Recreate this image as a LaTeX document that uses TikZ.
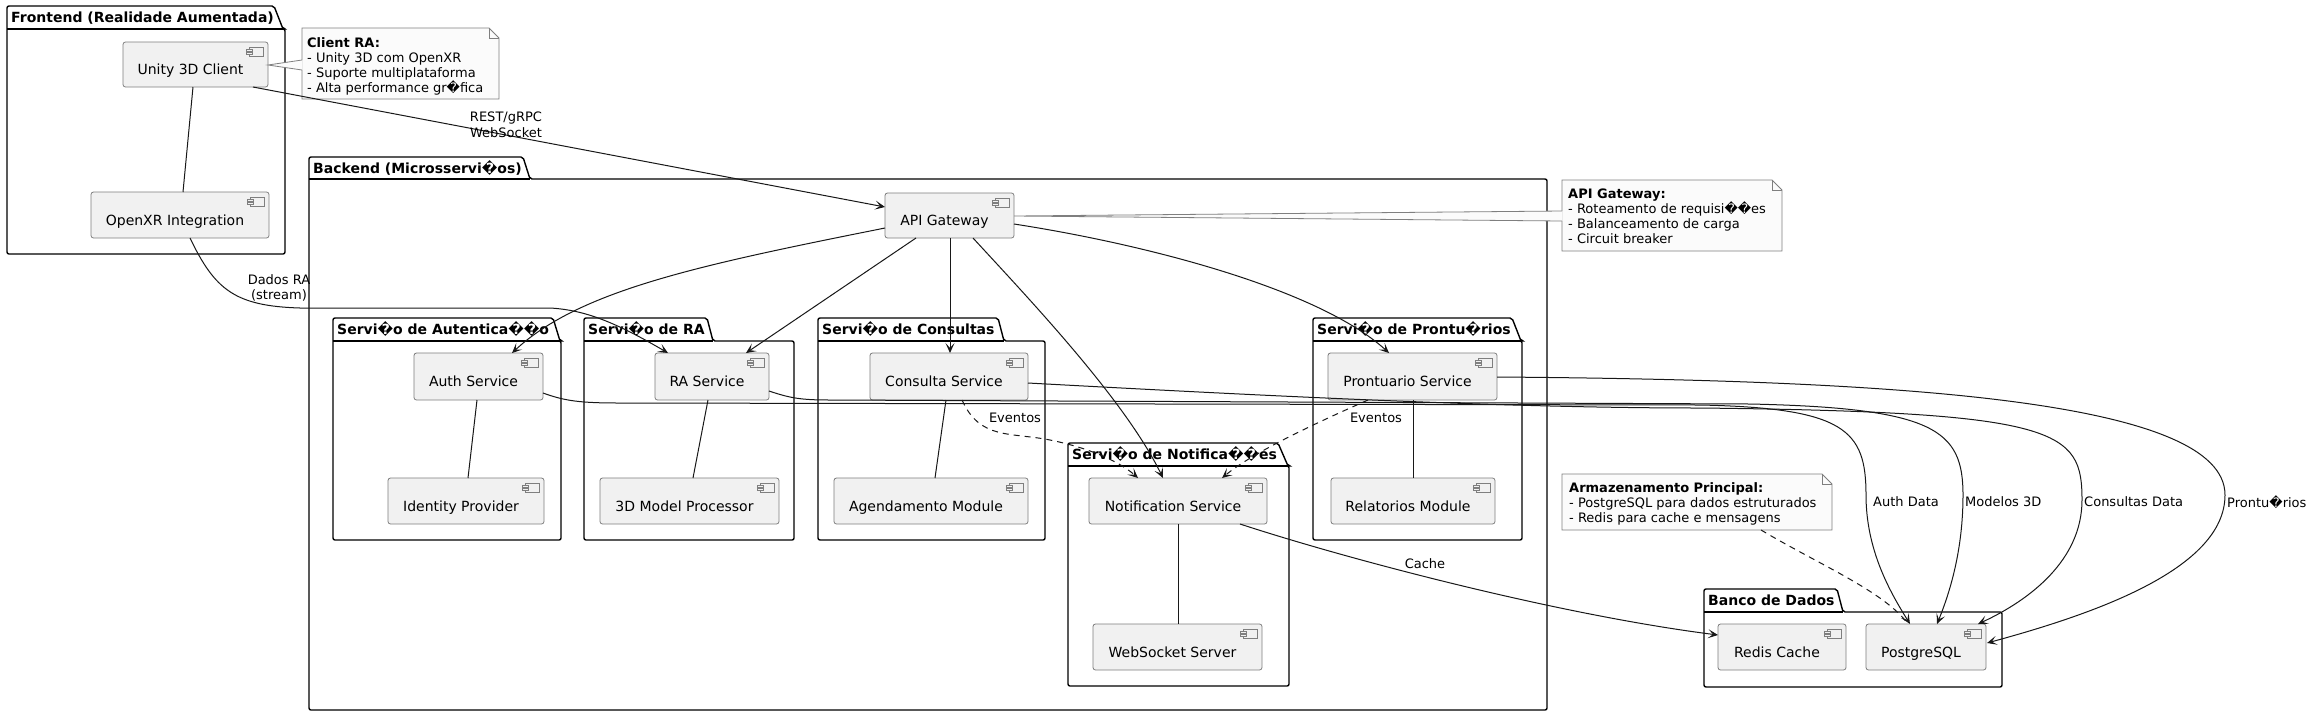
\documentclass[tikz,border=0pt]{standalone}
\usepackage{fontspec}
\setmainfont{DejaVu Sans}
\usetikzlibrary{arrows.meta}
\newcommand\rep{\char"FFFD\relax}
\definecolor{compfill}{HTML}{F1F1F1}
\definecolor{compdraw}{HTML}{7F7F7F}
\definecolor{notefill}{HTML}{FBFBFB}
\definecolor{edgecol}{HTML}{181818}
\tikzset{
 comp/.style={draw=compdraw, fill=compfill, line width=0.8pt, rounded corners=2.5pt, inner sep=0pt, outer sep=0pt},
 comptext/.style={font=\fontsize{14}{16}\selectfont, inner sep=0pt},
 iconline/.style={draw=compdraw, fill=compfill, line width=0.6pt},
 pkgline/.style={draw=black, line width=1.4pt, rounded corners=2pt, fill=white},
 pkgsep/.style={draw=black, line width=1.4pt},
 pkgtitle/.style={font=\fontsize{14}{16}\selectfont\bfseries, inner sep=0pt},
 notebox/.style={draw=compdraw, fill=notefill, line width=0.8pt},
 notetext/.style={font=\fontsize{13}{15}\selectfont, inner sep=0pt, anchor=base west},
 notebold/.style={font=\fontsize{13}{15}\selectfont\bfseries, inner sep=0pt, anchor=base west},
 conn/.style={draw=edgecol, line width=1pt},
 arr/.style={conn, -{Stealth[length=10pt,width=9pt,inset=5pt]}},
 dashedarr/.style={arr, dash pattern=on 6pt off 5pt},
 notelink/.style={conn, dash pattern=on 6pt off 5pt},
 elabel/.style={font=\fontsize{13}{15.5}\selectfont, inner sep=0pt, align=center},
}
% name, x1, y1, x2, y2, text
\newcommand\comp[6]{%
  \node[comp, anchor=north west, minimum width={(#4-#2)*1pt}, minimum height={(#5-#3)*1pt}] (#1) at (#2,#3) {};
  \node[comptext, anchor=base] (#1-t) at ([shift={(-5,10)}]#1.center) {#6};
  \draw[iconline] ([shift={(-19,5)}]#1.north east) rectangle ([shift={(-5,14)}]#1.north east);
  \draw[iconline] ([shift={(-22,7)}]#1.north east) rectangle ([shift={(-16,9)}]#1.north east);
  \draw[iconline] ([shift={(-22,10.5)}]#1.north east) rectangle ([shift={(-16,12.5)}]#1.north east);
}
% name, L, tabtop, bodytop, R, B, tabR, tabR2, title
\newcommand\pkg[9]{%
  \draw[pkgline] (#2,#4) -- (#2,#3) -- (#7,#3) -- (#8,#4) -- (#5,#4) -- (#5,#6) -- (#2,#6) -- cycle;
  \draw[pkgsep] (#2,#4) -- (#8,#4);
  \node[pkgtitle, anchor=base west] (#1) at (#2+4,#3+16) {#9};
}
\begin{document}
\begin{tikzpicture}[x=1pt,y=-1pt]
\useasboundingbox (0,0) rectangle (2311,716);

% packages
\pkg{pfront}{7}{6}{29}{285}{254}{274}{283}{Frontend (Realidade Aumentada)}
\pkg{pback}{309}{157}{179}{1547}{710}{523}{530}{Backend (Microsservi\rep os)}
\pkg{pauth}{333}{318}{341}{561}{540}{553}{560}{Servi\rep o de Autentica\rep\rep o}
\pkg{pra}{584}{318}{341}{794}{540}{707}{713}{Servi\rep o de RA}
\pkg{pcons}{818}{318}{341}{1045}{540}{998}{1004}{Servi\rep o de Consultas}
\pkg{pnotif}{1068}{443}{466}{1289}{686}{1278}{1288}{Servi\rep o de Notifica\rep\rep es}
\pkg{ppront}{1313}{318}{341}{1522}{540}{1512}{1521}{Servi\rep o de Prontu\rep rios}
\pkg{pbanco}{1704}{589}{612}{2002}{687}{1837}{1843}{Banco de Dados}

% components
\comp{unity}{123}{42}{268}{87}{Unity 3D Client}
\comp{openxr}{91}{192}{269}{238}{OpenXR Integration}
\comp{gateway}{885}{193}{1014}{238}{API Gateway}
\comp{auth}{414}{353}{543}{400}{Auth Service}
\comp{idp}{388}{478}{544}{524}{Identity Provider}
\comp{ra}{655}{353}{769}{400}{RA Service}
\comp{model}{600}{478}{779}{524}{3D Model Processor}
\comp{consulta}{870}{353}{1028}{400}{Consulta Service}
\comp{agenda}{834}{478}{1028}{524}{Agendamento Module}
\comp{notif}{1089}{478}{1267}{524}{Notification Service}
\comp{ws}{1093}{624}{1262}{670}{WebSocket Server}
\comp{pront}{1328}{353}{1497}{400}{Prontuario Service}
\comp{relat}{1331}{478}{1495}{524}{Relatorios Module}
\comp{redis}{1718}{624}{1846}{670}{Redis Cache}
\comp{pg}{1866}{624}{1986}{670}{PostgreSQL}

% note: Client RA
\draw[notebox] (302,28) -- (489,28) -- (499,38) -- (499,99) -- (302,99) -- cycle;
\draw[notebox, fill=none] (489,28) -- (489,38) -- (499,38);
\fill[notefill] ([shift={(0,-22)}]unity.south east) -- (302.5,60) -- (302.5,70) -- cycle;
\draw[draw=compdraw, line width=0.8pt] (302,60) -- ([shift={(0,-22)}]unity.south east) -- (302,70);
\node[notebold] (nc1) at (307,47) {Client RA:};
\node[notetext] (nc2) at (307,62) {- Unity 3D com OpenXR};
\node[notetext] (nc3) at (307,77) {- Suporte multiplataforma};
\node[notetext] (nc4) at (307,92) {- Alta performance gr\rep fica};

% note: API Gateway
\draw[notebox] (1562,180) -- (1772,180) -- (1782,190) -- (1782,251) -- (1562,251) -- cycle;
\draw[notebox, fill=none] (1772,180) -- (1772,190) -- (1782,190);
\fill[notefill] ([shift={(0,23)}]gateway.north east) -- (1562.5,211) -- (1562.5,221) -- cycle;
\draw[draw=compdraw, line width=0.8pt] (1562,211) -- ([shift={(0,23)}]gateway.north east) -- (1562,221);
\node[notebold] (na1) at (1568,198) {API Gateway:};
\node[notetext] (na2) at (1568,213) {- Roteamento de requisi\rep\rep es};
\node[notetext] (na3) at (1568,228) {- Balanceamento de carga};
\node[notetext] (na4) at (1568,243) {- Circuit breaker};

% note: Armazenamento
\draw[notebox] (1562,474) -- (1822,474) -- (1832,484) -- (1832,530) -- (1562,530) -- cycle;
\draw[notebox, fill=none] (1822,474) -- (1822,484) -- (1832,484);
\node[notebold] (nb1) at (1569,492) {Armazenamento Principal:};
\node[notetext] (nb2) at (1569,507) {- PostgreSQL para dados estruturados};
\node[notetext] (nb3) at (1569,522) {- Redis para cache e mensagens};
\coordinate (noteB) at (1761,530);
\draw[notelink] (noteB) .. controls (1820,565) and (1885,592) .. ([shift={(42,0)}]pg.north west);

% connectors
\draw[arr] ([shift={(-15,0)}]unity.south east) -- ([shift={(0,14)}]gateway.north west);
\draw[conn] ([shift={(70,0)}]unity.south west) -- ([shift={(92,0)}]openxr.north west);
\draw[arr] ([shift={(99,0)}]openxr.south west) .. controls (215,290) and (235,306) .. (300,308) -- (550,308) .. controls (585,310) and (615,322) .. ([shift={(13,0)}]ra.north west);
\draw[arr] ([shift={(0,35)}]gateway.north west) .. controls (700,265) and (580,290) .. ([shift={(98,0)}]auth.north west);
\draw[arr] ([shift={(31,0)}]gateway.south west) -- ([shift={(91,0)}]ra.north west);
\draw[arr] ([shift={(65,0)}]gateway.south west) -- ([shift={(80,0)}]consulta.north west);
\draw[arr] ([shift={(88,0)}]gateway.south west) .. controls (1030,300) and (1125,400) .. ([shift={(74,0)}]notif.north west);
\draw[arr] ([shift={(0,31)}]gateway.north east) .. controls (1150,245) and (1320,290) .. ([shift={(61,0)}]pront.north west);
\draw[conn] ([shift={(63,0)}]auth.south west) -- ([shift={(80,0)}]idp.north west);
\draw[conn] ([shift={(53,0)}]ra.south west) -- ([shift={(93,0)}]model.north west);
\draw[conn] ([shift={(76,0)}]consulta.south west) -- ([shift={(101,0)}]agenda.north west);
\draw[conn] ([shift={(85,0)}]pront.south west) -- ([shift={(82,0)}]relat.north west);
\draw[conn] ([shift={(89,0)}]notif.south west) -- ([shift={(85,0)}]ws.north west);
\draw[dashedarr] ([shift={(92,0)}]consulta.south west) .. controls (980,440) and (1010,432) .. (1050,440) .. controls (1090,448) and (1120,462) .. ([shift={(49,0)}]notif.north west);
\draw[dashedarr] ([shift={(40,0)}]pront.south west) .. controls (1300,430) and (1250,455) .. ([shift={(133,0)}]notif.north west);
\draw[arr] ([shift={(0,-7)}]auth.south east) .. controls (565,401) and (580,403) .. (620,403) -- (1700,405) .. controls (1845,408) and (1866,430) .. (1866,495) .. controls (1866,550) and (1890,592) .. ([shift={(44,0)}]pg.north west);
\draw[arr] ([shift={(0,-9)}]ra.south east) .. controls (790,398) and (800,400) .. (830,400) -- (1750,404) .. controls (1935,408) and (1963,430) .. (1963,495) .. controls (1963,550) and (1950,592) .. ([shift={(71,0)}]pg.north west);
\draw[arr] ([shift={(0,30)}]consulta.north east) .. controls (1250,395) and (1500,408) .. (1700,408) .. controls (2060,412) and (2082,430) .. (2082,500) .. controls (2082,560) and (2030,600) .. ([shift={(-8,0)}]pg.north east);
\draw[arr] ([shift={(0,24)}]pront.north east) .. controls (1900,380) and (2225,400) .. (2225,495) .. controls (2225,570) and (2090,615) .. ([shift={(1,19)}]pg.north east);
\draw[arr] ([shift={(-27,0)}]notif.south east) .. controls (1350,560) and (1560,615) .. ([shift={(0,11)}]redis.north west);

% connector labels
\node[elabel] (lrest) at (506,125) {REST/gRPC\\WebSocket};
\node[elabel] (ldados) at (279,288) {Dados RA\\(stream)};
\node[elabel] (lev1) at (1015,418) {Eventos};
\node[elabel] (lev2) at (1376,418) {Eventos};
\node[elabel] (lcache) at (1425,564) {Cache};
\node[elabel, anchor=west] (lauth) at (1873,502) {Auth Data};
\node[elabel, anchor=west] (lmod) at (1965,502) {Modelos 3D};
\node[elabel, anchor=west] (lcons) at (2084,502) {Consultas Data};
\node[elabel, anchor=west] (lpront) at (2227,502) {Prontu\rep rios};
\end{tikzpicture}
\end{document}
